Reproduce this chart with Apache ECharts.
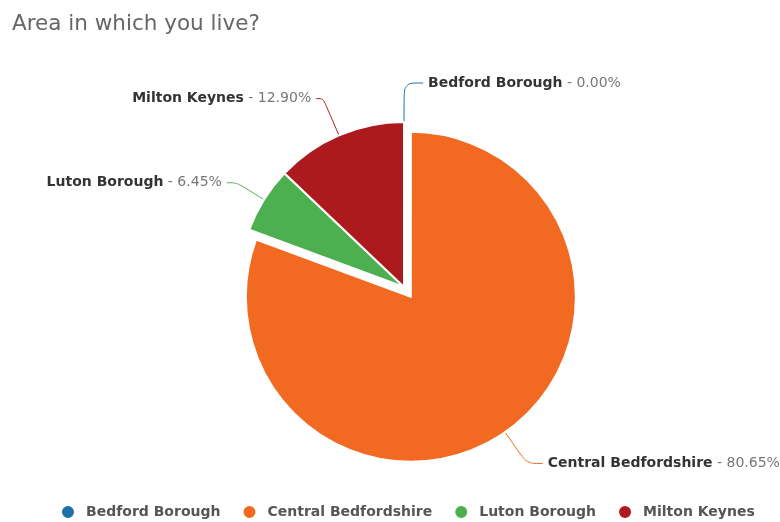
<!DOCTYPE html>
<html>
<head>
<meta charset="utf-8">
<script src="https://cdn.jsdelivr.net/npm/echarts@6/dist/echarts.min.js"></script>
<style>
  html, body { margin: 0; padding: 0; background: #fff; }
  #chart { width: 780px; height: 522px; }
</style>
</head>
<body>
<div id="chart"></div>
<script>
// Survey answers: "Area in which you live?"
const areas = ['Bedford Borough', 'Central Bedfordshire', 'Luton Borough', 'Milton Keynes'];
const responses = [0, 25, 2, 4];
const sliceColors = ['#1f6fa8', '#f26a21', '#4caf50', '#ad1a1e'];
const highlighted = 'Central Bedfordshire';

// connector geometry per slice: [radial length, horizontal length]
const connectors = [[39, 19], [38, 16], [32, 10], [40, 7]];

const chart = echarts.init(document.getElementById('chart'), null, { renderer: 'canvas' });

const pieData = areas.map((name, i) => ({
  name: name,
  value: responses[i],
  selected: name === highlighted,
  itemStyle: { color: sliceColors[i] },
  labelLine: {
    length: connectors[i][0],
    length2: connectors[i][1],
    lineStyle: { color: sliceColors[i] }
  }
}));

chart.setOption({
  animation: false,
  title: {
    text: 'Area in which you live?',
    left: 7,
    top: 8,
    textStyle: { fontFamily: 'DejaVu Sans', fontSize: 21.5, fontWeight: 'normal', color: '#666' }
  },
  legend: {
    data: areas,
    top: 499,
    left: 55,
    icon: 'circle',
    itemWidth: 14,
    itemHeight: 14,
    itemGap: 21,
    selectedMode: false,
    textStyle: { fontFamily: 'DejaVu Sans', fontSize: 14, fontWeight: 'bold', color: '#555', padding: [0, 0, 0, 6] }
  },
  series: [{
    type: 'pie',
    center: [404, 287],
    radius: 165,
    // a hair under 90 so the empty first slice labels to the right of 12 o'clock
    startAngle: 89.99,
    clockwise: true,
    selectedMode: 'single',
    selectedOffset: 12,
    avoidLabelOverlap: false,
    itemStyle: { borderColor: '#fff', borderWidth: 2 },
    label: {
      show: true,
      position: 'outside',
      formatter: p => '{n|' + p.name + '}{v| - ' + p.percent.toFixed(2) + '%}',
      rich: {
        n: { fontFamily: 'DejaVu Sans', fontSize: 14, fontWeight: 'bold', color: '#333' },
        v: { fontFamily: 'DejaVu Sans', fontSize: 14, color: '#777' }
      }
    },
    labelLine: { show: true, smooth: 0.3, lineStyle: { width: 1 } },
    emphasis: { disabled: true },
    data: pieData
  }]
});
</script>
</body>
</html>
